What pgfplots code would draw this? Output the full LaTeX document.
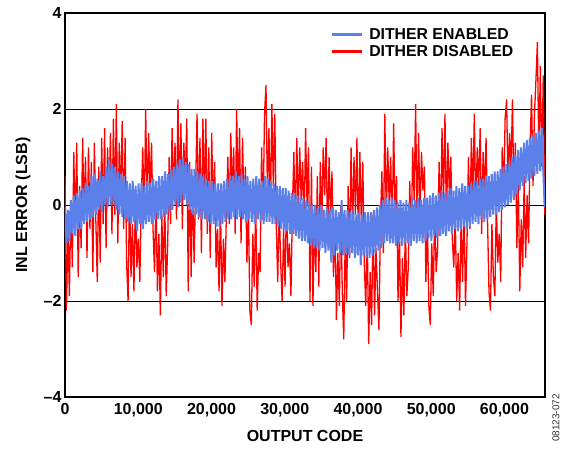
\documentclass[border=0pt]{standalone}
\usepackage{pgfplots}
\pgfplotsset{compat=1.18}
\usepackage{pgfplotstable}
\usepackage{fontspec}
\setmainfont{Liberation Sans}
\definecolor{dblue}{RGB}{92,128,234}
\definecolor{dred}{RGB}{255,0,0}

\pgfplotstableread[row sep=\\]{
y\\
0.6\\ -2.2\\ -0.4\\ -1.9\\ 0.1\\
-1.3\\ 1.1\\ -0.6\\ 1.3\\ -1.5\\ 0.4\\ -0.9\\ 1.4\\ -0.2\\ 1.0\\ -1.1\\ 1.2\\ -0.5\\ 0.9\\ -1.4\\ 1.3\\ -0.3\\ -1.6\\
0.8\\ -1.2\\ 1.4\\ -0.4\\ 1.6\\ -0.9\\ 1.2\\ 0.2\\ 1.5\\ -0.6\\ 1.8\\ -0.2\\ 2.1\\ -0.8\\ 1.3\\ 0.1\\ 1.75\\ -0.5\\ 1.4\\
-1.2\\ -2.0\\ 0.3\\ -1.5\\ -0.4\\ -1.8\\ 0.2\\ -1.3\\ -0.7\\ -1.6\\ 0.1\\
1.2\\ -0.3\\ 2.0\\ -0.1\\ 1.5\\ 0.3\\ 1.3\\ -0.5\\
-1.4\\ 0.2\\ -1.8\\ -0.6\\ -2.3\\ -0.2\\ -1.5\\ 0.1\\ -1.9\\ -0.8\\
1.0\\ -0.4\\ 1.6\\ 0.2\\ 1.3\\ -0.3\\ 2.2\\ 0.0\\ 1.7\\ -0.5\\ 1.3\\ 0.4\\
1.8\\ -1.8\\ 0.9\\ -1.5\\ 0.6\\ -1.2\\ 0.3\\
1.9\\ -0.3\\ 1.4\\ -1.0\\ 1.8\\ 0.1\\ 1.8\\ -0.6\\ 1.2\\ -1.1\\ 1.5\\ -0.2\\ 0.9\\ -1.3\\
-0.5\\ -1.8\\ 0.0\\ -2.1\\ -0.7\\ -1.6\\ -0.2\\
1.0\\ -0.4\\ 1.5\\ 0.2\\ 1.2\\ -0.6\\ 2.0\\ 0.1\\ 1.6\\ -0.8\\ 1.4\\ -0.1\\ 0.8\\
-1.2\\ 0.0\\ -2.2\\ -2.5\\ -0.6\\ -1.7\\ 0.1\\ -2.2\\ -1.0\\ -1.4\\
1.2\\ -0.3\\ 1.9\\ 2.5\\ 0.2\\ 1.6\\ -0.2\\ 2.1\\ 0.4\\ 1.9\\ -0.4\\
-1.6\\ 0.0\\ -1.2\\ -2.0\\ -0.5\\ -1.7\\ 0.2\\ -1.3\\ -0.8\\ -1.9\\ -0.1\\
1.1\\ -0.6\\ 1.4\\ -0.2\\ 1.2\\ 0.1\\ 0.9\\ -0.5\\ 1.6\\ 0.0\\ 1.2\\
-2.0\\ 0.8\\ -2.1\\ -0.3\\ -1.4\\ 0.6\\
-1.7\\ 0.9\\ -0.4\\ 1.2\\ 0.2\\ 1.4\\ -0.8\\ 1.0\\ -0.2\\ 0.7\\
-1.5\\ -0.3\\ -2.4\\ -1.0\\ -2.1\\ 0.0\\ -1.8\\ -2.8\\ -0.7\\ -2.0\\
0.4\\ -1.1\\ 1.2\\ -0.6\\ 1.0\\ -0.2\\ 1.4\\ -0.9\\ 1.1\\ -0.4\\ 0.9\\ -1.2\\
-2.1\\ -0.6\\ -2.9\\ -1.4\\ -2.5\\ -0.2\\ -2.3\\ -0.9\\ -1.8\\ -2.6\\ -0.4\\
0.7\\ -1.0\\ 1.9\\ -0.3\\ 1.2\\ 0.0\\ 1.0\\ -0.7\\ 1.7\\ -0.2\\ 0.6\\
-2.0\\ -0.6\\ -2.75\\ -1.1\\ -2.3\\ -0.4\\ -1.9\\ -1.3\\
0.5\\ -0.8\\ 1.2\\ 0.1\\ 2.1\\ -0.5\\ 1.5\\ -0.2\\ 1.1\\ 0.3\\ 0.8\\
-1.6\\ -0.3\\ -2.1\\ -2.5\\ -0.8\\ -1.9\\ -0.1\\ -1.4\\ -0.9\\
0.9\\ -0.6\\ 1.6\\ 0.0\\ 1.9\\ -0.4\\ 1.3\\ 0.2\\ 1.0\\ -0.7\\
-1.3\\ -0.2\\ -2.0\\ -1.0\\ -2.2\\ -0.3\\ -1.6\\ 0.0\\ -2.1\\ -0.8\\
1.0\\ -0.5\\ 1.4\\ 0.1\\ 1.9\\ -0.2\\ 1.2\\ 0.4\\ 1.6\\ -0.6\\ 1.1\\ 0.2\\ 1.4\\ -0.3\\
-1.8\\ -2.2\\ -0.4\\ -1.5\\ -1.9\\ 0.1\\ -1.2\\ -0.6\\ -1.6\\
1.2\\ 0.2\\ 1.8\\ 2.2\\ 0.4\\ 1.5\\ 0.7\\ 2.2\\ 0.1\\ 1.3\\
-0.9\\ 0.5\\ -1.8\\ -0.3\\ -1.3\\ 0.6\\ -1.1\\ 0.2\\ -0.8\\
1.2\\ 2.3\\ 0.4\\ 1.9\\ 2.6\\ 3.4\\ 1.0\\ 2.9\\ 0.8\\ 2.7\\ -0.2\\
}\reddata

\pgfplotstableread[row sep=\\]{
y\\
-0.05\\ -0.8\\ -0.1\\ -0.75\\ 0.1\\ -0.6\\ 0.2\\ -0.65\\ 0.25\\ -0.5\\
0.3\\ -0.5\\ 0.35\\ -0.4\\ 0.45\\ -0.35\\ 0.4\\ -0.3\\ 0.6\\ -0.25\\
0.65\\ -0.2\\ 0.55\\ -0.1\\ 0.7\\ -0.15\\ 0.6\\ 0.0\\ 0.8\\ -0.05\\ 0.95\\ 0.0\\
0.85\\ 0.0\\ 0.8\\ -0.1\\ 0.7\\ -0.2\\ 0.65\\ -0.25\\ 0.6\\ -0.3\\ 0.5\\ -0.35\\
0.45\\ -0.4\\ 0.5\\ -0.35\\ 0.4\\ -0.55\\ 0.45\\ -0.4\\
0.45\\ -0.5\\ 0.4\\ -0.4\\ 0.5\\ -0.35\\ 0.45\\ -0.4\\ 0.55\\ -0.3\\ 0.5\\ -0.3\\ 0.6\\ -0.3\\
0.6\\ -0.25\\ 0.7\\ -0.2\\ 0.65\\ -0.15\\ 0.75\\ -0.1\\ 0.8\\ 0.0\\ 0.85\\ -0.05\\ 0.95\\ 0.05\\
1.0\\ 0.1\\ 0.9\\ 0.0\\ 0.85\\ -0.1\\ 0.75\\
-0.2\\ 0.75\\ -0.2\\ 0.7\\ -0.25\\ 0.65\\ -0.3\\ 0.6\\ -0.3\\ 0.55\\ -0.35\\ 0.5\\ -0.4\\ 0.5\\ -0.4\\ 0.45\\ -0.45\\
0.45\\ -0.45\\ 0.45\\ -0.4\\ 0.5\\ -0.35\\ 0.55\\ -0.3\\ 0.55\\ -0.3\\ 0.6\\
-0.25\\ 0.7\\ -0.3\\ 0.6\\ -0.25\\ 0.65\\ -0.3\\ 0.55\\ -0.35\\ 0.6\\ -0.3\\ 0.5\\
-0.35\\ 0.55\\ -0.4\\ 0.6\\ -0.3\\ 0.55\\ -0.35\\ 0.5\\ -0.4\\ 0.6\\ -0.35\\
0.55\\ -0.35\\ 0.5\\ -0.4\\ 0.45\\ -0.4\\ 0.4\\ -0.45\\ 0.4\\ -0.5\\ 0.35\\ -0.5\\
0.35\\ -0.55\\ 0.3\\ -0.6\\ 0.25\\ -0.6\\ 0.25\\ -0.65\\ 0.2\\ -0.7\\ 0.15\\ -0.75\\ 0.15\\
-0.75\\ 0.1\\ -0.8\\ 0.05\\ -0.85\\ 0.0\\ -0.9\\
0.0\\ -0.9\\ -0.05\\ -0.95\\ 0.0\\ -0.9\\ -0.1\\ -1.0\\ -0.05\\ -0.95\\ -0.1\\ -1.2\\ -0.05\\ -1.05\\ -0.1\\ -0.95\\ -0.15\\ -1.0\\ 0.1\\ -1.05\\ -0.1\\ -1.0\\
-0.1\\ -1.05\\ -0.15\\ -1.0\\ -0.1\\ -1.1\\ -0.2\\ -1.05\\ -0.15\\ -1.25\\ -0.2\\ -1.05\\ -0.15\\ -1.1\\
-0.15\\ -1.1\\ -0.15\\ -1.05\\ -0.1\\ -1.0\\ -0.05\\ -0.95\\ 0.0\\ -0.9\\ 0.1\\ -0.8\\
0.15\\ -0.75\\ 0.1\\ -0.8\\ 0.15\\ -0.8\\ 0.1\\ -0.85\\ 0.05\\ -0.8\\ 0.1\\ -0.85\\ 0.05\\ -0.8\\
0.1\\ -0.8\\ 0.05\\ -0.85\\ 0.15\\ -0.75\\ 0.1\\ -0.8\\ 0.15\\ -0.75\\ 0.1\\ -0.8\\ 0.15\\
-0.75\\ 0.15\\ -0.7\\ 0.2\\ -0.75\\ 0.25\\ -0.65\\ 0.2\\ -0.7\\ 0.25\\ -0.65\\ 0.3\\ -0.6\\ 0.25\\
-0.65\\ 0.3\\ -0.55\\ 0.35\\ -0.6\\ 0.3\\ -0.5\\ 0.4\\ -0.55\\ 0.35\\ -0.5\\ 0.45\\ -0.45\\ 0.4\\
-0.5\\ 0.4\\ -0.45\\ 0.45\\ -0.4\\ 0.5\\ -0.35\\ 0.5\\ -0.4\\ 0.55\\ -0.3\\ 0.55\\ -0.35\\
0.6\\ -0.3\\ 0.6\\ -0.25\\ 0.65\\ -0.2\\ 0.7\\ -0.2\\ 0.7\\ -0.15\\ 0.75\\ -0.1\\ 0.8\\ -0.05\\
0.85\\ 0.0\\ 0.9\\ 0.05\\ 1.0\\ 0.15\\ 1.05\\ 0.25\\ 1.15\\ 0.3\\ 1.2\\ 0.4\\ 1.3\\
0.45\\ 1.35\\ 0.5\\ 1.4\\ 0.55\\ 1.45\\ 0.6\\ 1.5\\ 0.65\\ 1.55\\ 0.7\\ 1.6\\ 0.75\\ -0.05\\
}\bluedata

\begin{document}
\begin{tikzpicture}
\begin{axis}[
  scale only axis,
  width=480pt, height=384pt,
  xmin=0, xmax=65535, ymin=-4, ymax=4,
  scaled x ticks=false,
  xtick={0,10000,20000,30000,40000,50000,60000},
  xticklabels={0,{10,000},{20,000},{30,000},{40,000},{50,000},{60,000}},
  ytick={-4,-2,0,2,4},
  yticklabels={\textendash4,\textendash2,0,2,4},
  major tick length=0pt,
  ymajorgrids,
  grid style={black, line width=0.9pt},
  axis line style={black, line width=1.8pt},
  tick label style={font=\bfseries\fontsize{16}{18}\selectfont},
  xticklabel style={yshift=-3pt},
  label style={font=\bfseries\fontsize{16}{18}\selectfont},
  xlabel={OUTPUT CODE},
  ylabel={INL ERROR (LSB)},
  xlabel style={at={(axis description cs:0.5,-0.1016)}, anchor=center},
  ylabel style={at={(axis description cs:-0.0875,0.5)}, anchor=center},
  legend style={draw=none, fill=none, at={(axis description cs:0.546,0.97)}, anchor=north west,
    font=\bfseries\fontsize{15.8}{16.5}\selectfont, legend cell align=left,
    /tikz/every odd column/.append style={column sep=4pt}},
  legend image code/.code={\draw[#1, line width=3pt] (0pt,0pt) -- (30pt,0pt);},
]
\addplot[dred, line width=1.3pt, forget plot] table[x expr=\coordindex*200.3, y=y]{\reddata};
\addplot[dblue, line width=2pt, forget plot] table[x expr=\coordindex*200.9, y=y]{\bluedata};
\addlegendimage{dblue}
\addlegendentry{DITHER ENABLED}
\addlegendimage{dred}
\addlegendentry{DITHER DISABLED}
\coordinate (ll) at (rel axis cs:0,0);
\coordinate (ur) at (rel axis cs:1,1);
\coordinate (br) at (rel axis cs:1,0);
\end{axis}
\node[rotate=90, font=\fontsize{10}{10}\selectfont, text=black!80] at ([xshift=11pt,yshift=-21pt]br) {08123-072};
\path ([shift={(-65pt,-53pt)}]ll) rectangle ([shift={(18pt,13pt)}]ur);
\end{tikzpicture}
\end{document}
